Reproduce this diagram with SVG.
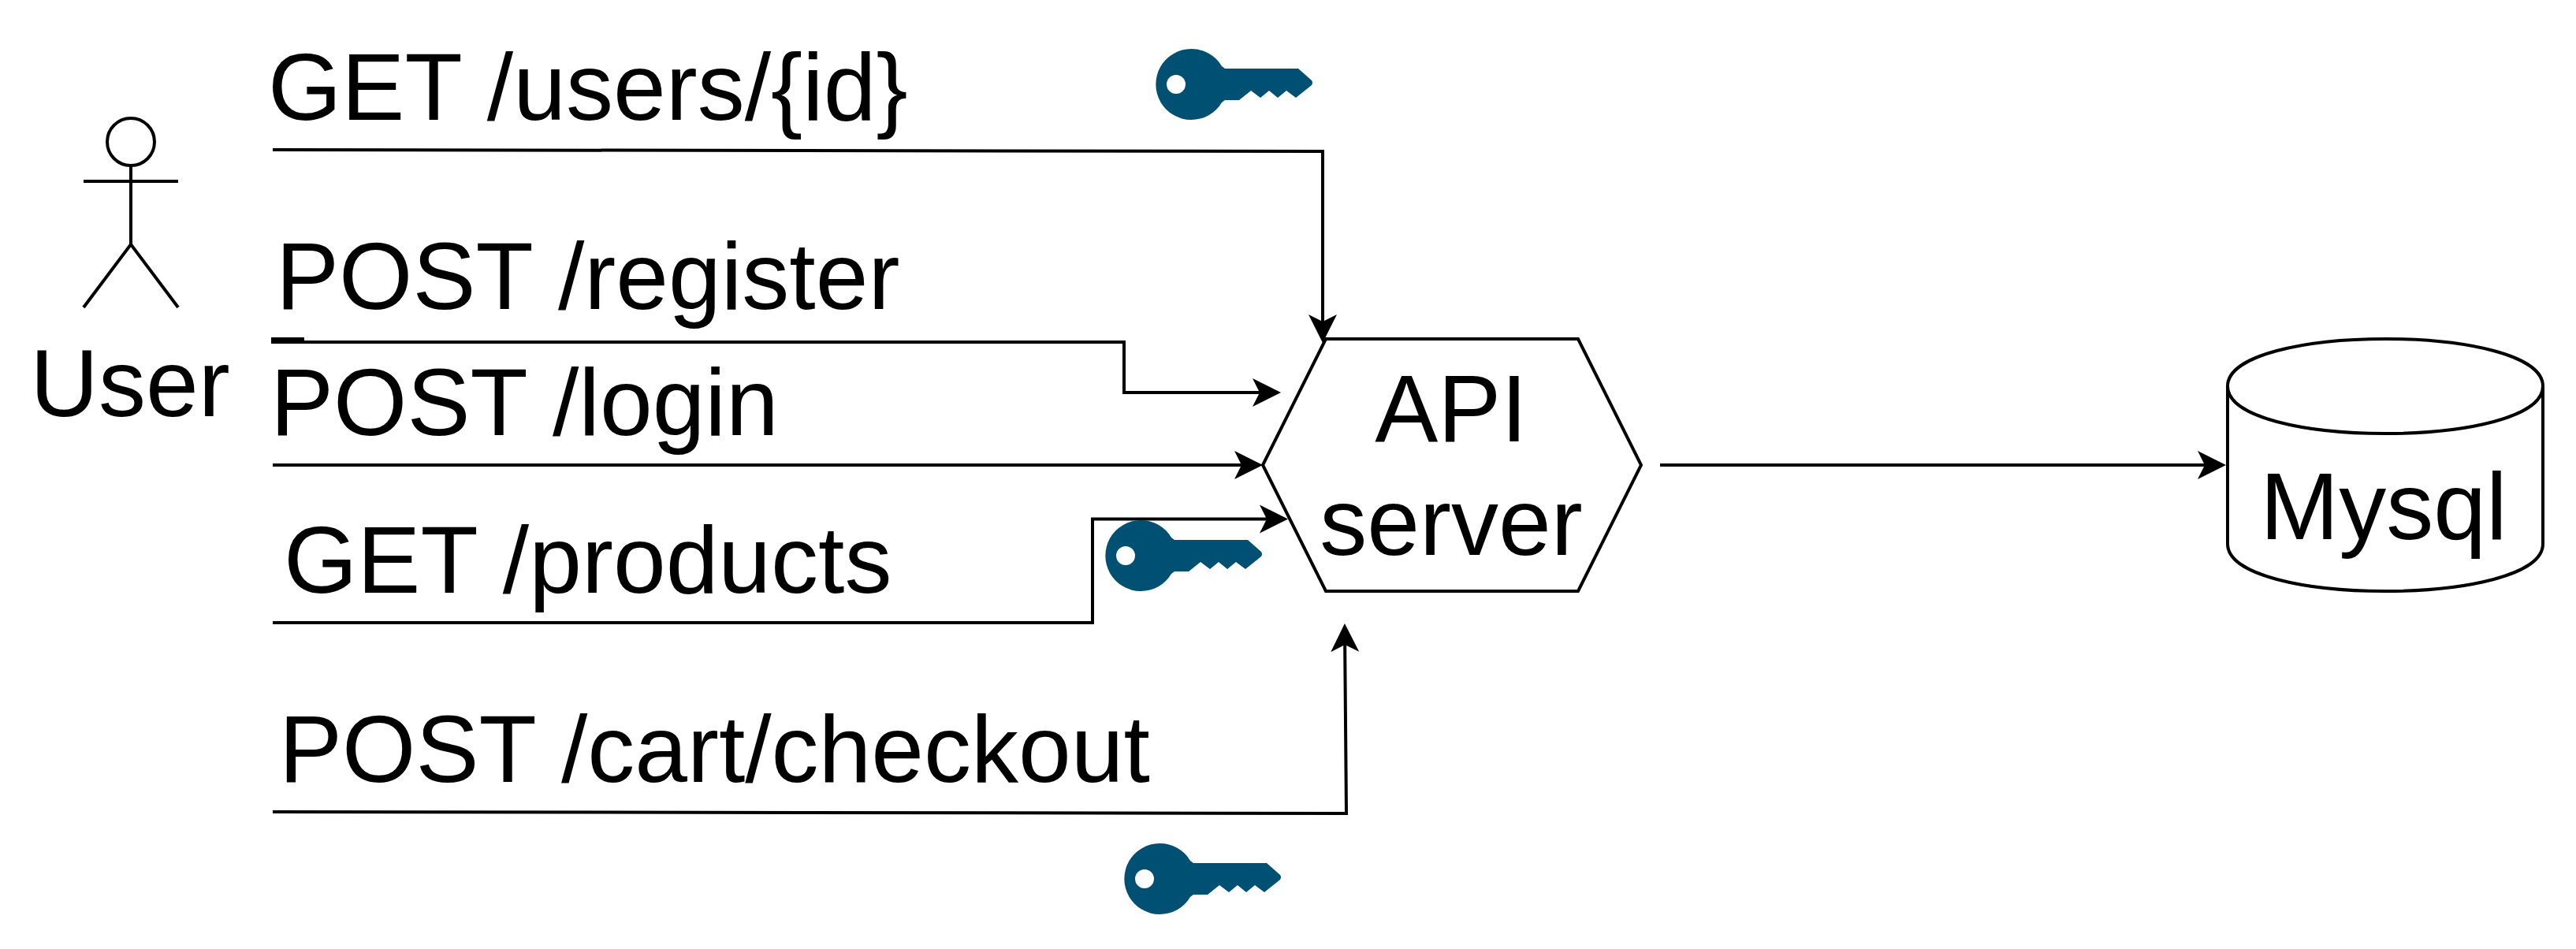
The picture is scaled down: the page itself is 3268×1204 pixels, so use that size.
<svg xmlns="http://www.w3.org/2000/svg" xmlns:xlink="http://www.w3.org/1999/xlink" width="3268" height="1204" viewBox="0 0 3268 1204">
<style>
text{font-family:"Liberation Sans",Arial,sans-serif;font-size:120px;fill:#000}
.m{text-anchor:middle}
.s{fill:none;stroke:#000;stroke-width:4;stroke-miterlimit:10}
.w{fill:#fff;stroke:#000;stroke-width:4;stroke-miterlimit:10}
.c{fill:none;stroke:#000;stroke-width:4;stroke-miterlimit:10;marker-end:url(#a)}
</style>
<defs>
<marker id="a" markerUnits="userSpaceOnUse" markerWidth="36" markerHeight="36" refX="27" refY="18" orient="auto" overflow="visible"><path d="M36 18L0 0L9 18L0 36Z" fill="#000"/></marker>
<path id="key" fill="#005073" fill-rule="evenodd" d="M45 0A45 45 0 0 1 84 22L88 25H181L198 40Q200 43 198 46L178 62L166 53L155 62L144 53L133 62L121 53L106 65H88L84 68A45 45 0 1 1 45 0ZM26 33A12 12 0 1 0 26 57A12 12 0 1 0 26 33Z"/>
</defs>
<rect width="3268" height="1204" fill="#fff"/>
<g id="connectors">
<path class="c" d="M346 190L1678 192L1678 426"/>
<path class="s" d="M344 432H386" style="stroke-width:8"/>
<path class="c" d="M346 434H1426V498H1616"/>
<path class="c" d="M346 590H1593"/>
<path class="c" d="M346 790H1386V658.5H1625"/>
<path class="c" d="M346 1030L1708 1032L1706 800"/>
<path class="c" d="M2106 590H2815"/>
</g>
<g id="user">
<circle class="s" cx="166" cy="180" r="30"/>
<path class="s" d="M166 210V310M106 230H226M106 390L166 310L226 390"/>
<text class="m" x="165" y="528">User</text>
</g>
<g id="api-server">
<path class="s" d="M1682 430H2002L2082 590L2002 750H1682L1602 590Z"/>
<text class="m" x="1841" y="560">API</text>
<text class="m" x="1841" y="704">server</text>
</g>
<g id="mysql">
<path class="w" d="M2826 490C2826 410 3226 410 3226 490V690C3226 770 2826 770 2826 690Z"/>
<path class="s" d="M2826 490C2826 570 3226 570 3226 490"/>
<text class="m" x="3024" y="684">Mysql</text>
</g>
<g id="label-get-users"><text x="340" y="152">GET /users/{id}</text></g>
<g id="label-post-register"><text x="350" y="392">POST /register</text></g>
<g id="label-post-login"><text x="343" y="552">POST /login</text></g>
<g id="label-get-products"><text x="360" y="752">GET /products</text></g>
<g id="label-post-checkout"><text x="354" y="992">POST /cart/checkout</text></g>
<g id="key-1"><use xlink:href="#key" href="#key" x="1466" y="62"/></g>
<g id="key-2"><use xlink:href="#key" href="#key" x="1402" y="660"/></g>
<g id="key-3"><use xlink:href="#key" href="#key" x="1426" y="1070"/></g>
</svg>
